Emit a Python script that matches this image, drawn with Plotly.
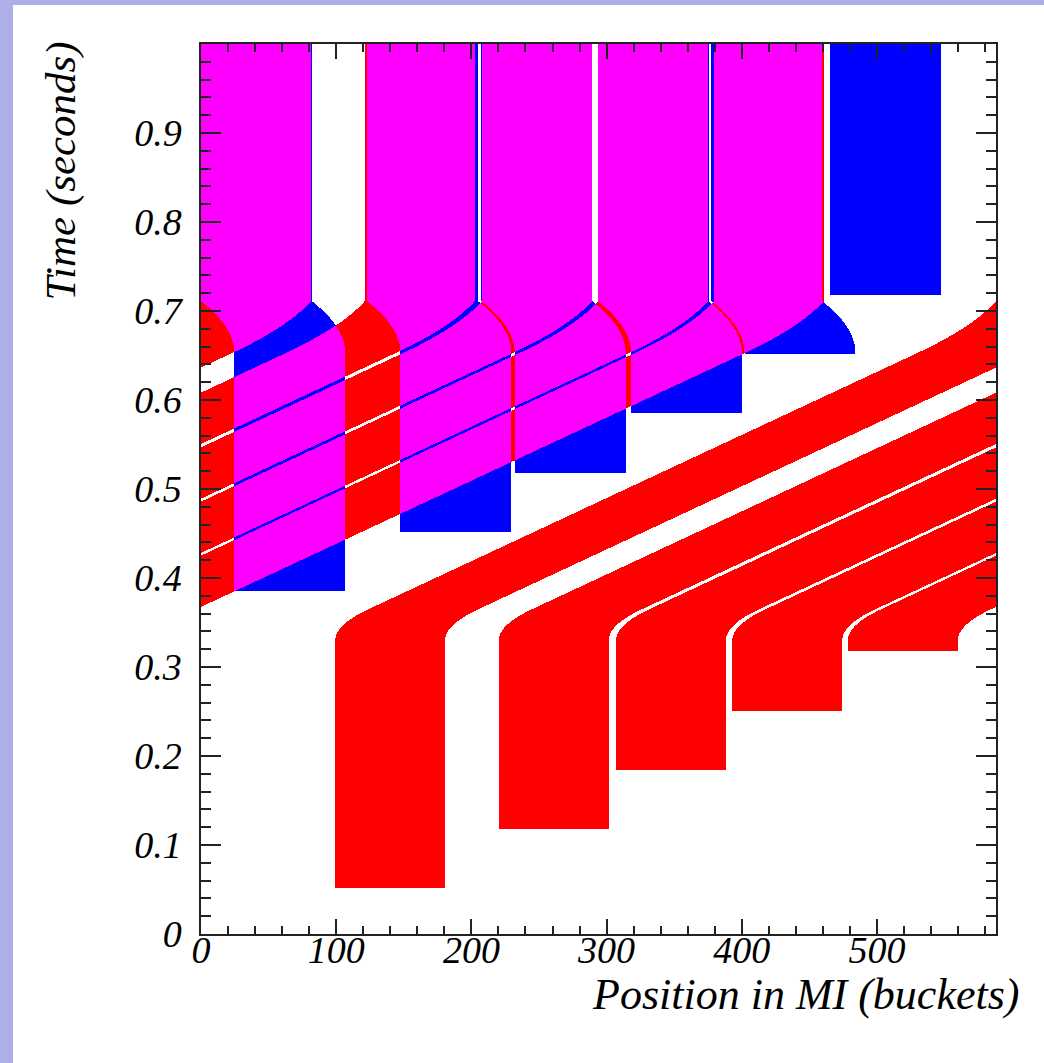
import numpy as np
import plotly.graph_objects as go

# ---------------- data ----------------
RING_BUCKETS = 588                      # circumference of the Main Injector in buckets

# red batches (injected first, then slipped)
red_left = [99.3, 220.3, 307.0, 393.0, 478.5]        # bucket of the batch head at injection
red_width = 81.3                                       # buckets per batch
red_inject = [0.052, 0.118, 0.184, 0.251, 0.318]       # injection times (s)

# blue batches (injected later, stationary until the merge)
blue_left = [24.6, 147.5, 232.0, 318.0, 402.0, 465.0]
blue_width = 82.0
blue_inject = [0.385, 0.452, 0.518, 0.585, 0.652, 0.718]

# slipping / merging parameters
slip_rate = 1410.0        # buckets per second while slipping
slip_start = 0.330        # s
accel_time = 0.035        # s to reach full slip rate
merge_start = 0.653       # s
merge_end = 0.711         # s
end_rate_frac = 0.42      # fraction of slip rate left at the end of the merge
blue_shift = 24.6         # buckets the blue batches move during the merge

x_ticks = [0, 100, 200, 300, 400, 500]
x_tick_text = ["0", "100", "200", "300", "400", "500"]
y_ticks = [0, 0.1, 0.2, 0.3, 0.4, 0.5, 0.6, 0.7, 0.8, 0.9]
y_tick_text = ["0", "0.1", "0.2", "0.3", "0.4", "0.5", "0.6", "0.7", "0.8", "0.9"]

x_title = "Position in MI (buckets)"
y_title = "Time (seconds)"


# ---------------- motion model ----------------
def red_displacement(t):
    t = np.asarray(t, dtype=float)
    s = np.zeros_like(t)
    v = slip_rate
    t_acc_end = slip_start + accel_time
    m = (t > slip_start) & (t <= t_acc_end)
    s[m] = v * (t[m] - slip_start) ** 2 / (2 * accel_time)
    s_acc = v * accel_time / 2
    m = (t > t_acc_end) & (t <= merge_start)
    s[m] = s_acc + v * (t[m] - t_acc_end)
    s_ms = s_acc + v * (merge_start - t_acc_end)
    T = merge_end - merge_start
    m = (t > merge_start) & (t <= merge_end)
    tau = t[m] - merge_start
    s[m] = s_ms + v * tau - v * (1 - end_rate_frac) * tau ** 2 / (2 * T)
    s[t > merge_end] = s_ms + v * T * (1 + end_rate_frac) / 2
    return s


def blue_displacement(t):
    t = np.asarray(t, dtype=float)
    u = np.clip((t - merge_start) / (merge_end - merge_start), 0, 1)
    return -blue_shift * u ** 2


nx, ny = 795, 890
dx = RING_BUCKETS / nx
dt = 1.0 / ny
xc = (np.arange(nx) + 0.5) * dx
tc = (np.arange(ny) + 0.5) * dt

S = red_displacement(tc)
B = blue_displacement(tc)

red = np.zeros((ny, nx), dtype=bool)
for a, t0 in zip(red_left, red_inject):
    s0 = red_displacement([t0])[0]
    xl = (a + S - s0) % RING_BUCKETS
    inside = ((xc[None, :] - xl[:, None]) % RING_BUCKETS) < red_width
    red |= inside & (tc[:, None] >= t0)

blue = np.zeros((ny, nx), dtype=bool)
for b, t0 in zip(blue_left, blue_inject):
    b0 = blue_displacement([t0])[0]
    xl = (b + B - b0) % RING_BUCKETS
    inside = ((xc[None, :] - xl[:, None]) % RING_BUCKETS) < blue_width
    blue |= inside & (tc[:, None] >= t0)

z = (red.astype(np.int8) + 2 * blue.astype(np.int8)).astype(np.int8)

colorscale = [
    [0.0, "#ffffff"], [0.1667, "#ffffff"],
    [0.1667, "#ff0000"], [0.5, "#ff0000"],
    [0.5, "#0000ff"], [0.8333, "#0000ff"],
    [0.8333, "#ff00ff"], [1.0, "#ff00ff"],
]

fig = go.Figure(
    go.Heatmap(
        x=xc, y=tc, z=z, zmin=0, zmax=3, colorscale=colorscale,
        showscale=False, hoverinfo="skip", zsmooth=False,
    )
)

tick_font = dict(family="Liberation Serif", size=38, color="black", style="italic")
xtitle_font = dict(family="Liberation Serif", size=44, color="black", style="italic")
ytitle_font = dict(family="Liberation Serif", size=43, color="black", style="italic")

fig.update_layout(
    width=1044, height=1063,
    margin=dict(l=201, r=48, t=44, b=129),
    paper_bgcolor="rgb(174,174,234)",
    plot_bgcolor="white",
    showlegend=False,
    shapes=[dict(type="rect", xref="paper", yref="paper",
                 x0=(13 - 201) / 795, x1=(1050 - 201) / 795,
                 y0=(934 - 1070) / 890, y1=(934 - 5) / 890,
                 fillcolor="white", line=dict(width=0), layer="below")],
    xaxis=dict(
        range=[0, RING_BUCKETS], showgrid=False, zeroline=False,
        showline=True, linecolor="#222", linewidth=1.5, mirror="ticks",
        ticks="inside", ticklen=15, tickwidth=1.5, tickcolor="#222",
        tickvals=x_ticks, ticktext=x_tick_text, tickfont=tick_font,
        ticklabelstandoff=-18,
        minor=dict(ticks="inside", ticklen=8, tickwidth=1.5, tickcolor="#222",
                   tick0=0, dtick=20),
    ),
    yaxis=dict(
        range=[0, 1], showgrid=False, zeroline=False,
        showline=True, linecolor="#222", linewidth=1.5, mirror="ticks",
        ticks="inside", ticklen=20, tickwidth=1.5, tickcolor="#222",
        tickvals=y_ticks, ticktext=y_tick_text, tickfont=tick_font,
        ticklabelstandoff=10,
        minor=dict(ticks="inside", ticklen=10, tickwidth=1.5, tickcolor="#222",
                   tick0=0, dtick=0.02),
    ),
    annotations=[
        dict(text=x_title, xref="paper", yref="paper", x=1, y=0,
             xanchor="right", yanchor="middle", xshift=25, yshift=-60,
             showarrow=False, font=xtitle_font),
        dict(text=y_title, xref="paper", yref="paper", x=0, y=1,
             xanchor="center", yanchor="top", xshift=-141, yshift=4,
             textangle=-90, showarrow=False, font=ytitle_font),
    ],
)

fig.write_html("out.html")
